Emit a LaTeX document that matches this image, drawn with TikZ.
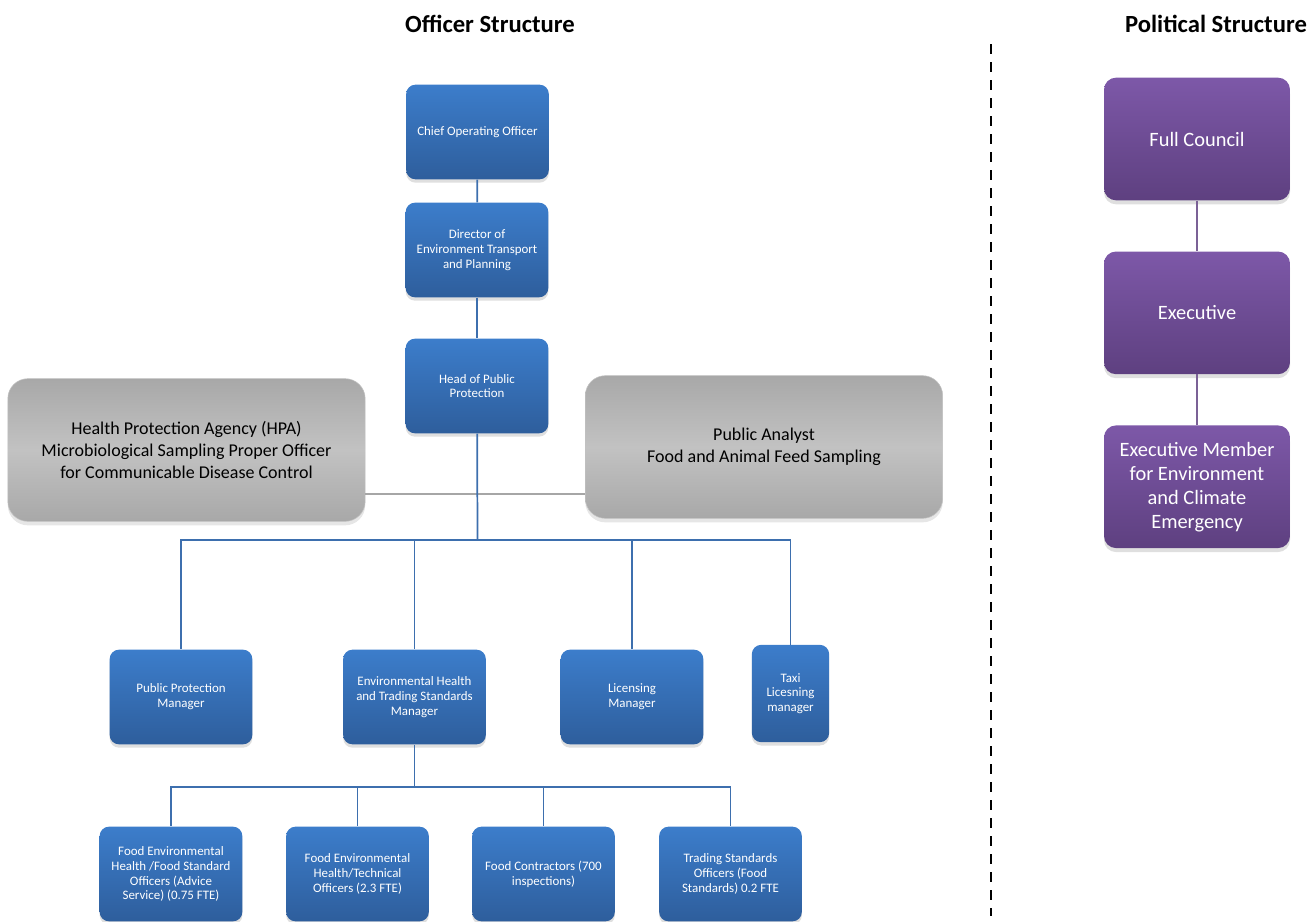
\documentclass[tikz,border=0pt]{standalone}
\usepackage{fontspec}
\setmainfont{Carlito}
\usetikzlibrary{positioning, shadows}
\definecolor{boxblue}{HTML}{3C7DCB}
\definecolor{boxbluedark}{HTML}{2E5E9C}
\definecolor{boxpurple}{HTML}{7D58A8}
\definecolor{boxpurpledark}{HTML}{5E4080}
\definecolor{boxgray}{HTML}{A8A8A8}
\definecolor{boxgraylight}{HTML}{C2C2C2}
\definecolor{linkblue}{HTML}{3D6FAE}
\definecolor{linkpurple}{HTML}{7B6196}
\definecolor{linkgray}{HTML}{A6A6A6}

\begin{document}
\begin{tikzpicture}[
  x=0.75pt, y=-0.75pt,
  node distance=38pt,
  officer/.style={rounded corners=7pt, top color=boxblue, bottom color=boxbluedark,
                  text=white, align=center, inner sep=2pt,
                  font=\fontsize{9.7}{11.1}\selectfont,
                  minimum width=107pt, minimum height=71pt,
                  drop shadow={opacity=0.25, shadow xshift=0pt, shadow yshift=-2.5pt}},
  partner/.style={rounded corners=15pt, top color=boxgray, bottom color=boxgray,
                  middle color=boxgraylight, draw=boxgraylight, align=center,
                  font=\fontsize{13.5}{16.7}\selectfont,
                  minimum width=268pt, minimum height=107pt,
                  drop shadow={opacity=0.2, shadow xshift=0pt, shadow yshift=-3pt}},
  member/.style={rounded corners=9pt, top color=boxpurple, bottom color=boxpurpledark,
                 text=white, align=center, inner sep=2pt,
                 font=\fontsize{15.3}{18}\selectfont,
                 minimum width=139.5pt, minimum height=92pt,
                 drop shadow={opacity=0.25, shadow xshift=0pt, shadow yshift=-3pt}},
  heading/.style={font=\fontsize{18.5}{22}\selectfont\bfseries},
  link/.style={draw=linkblue, line width=1.3pt},
  glink/.style={draw=linkgray, line width=1.3pt},
  plink/.style={draw=linkpurple, line width=1.2pt}
]
\useasboundingbox (0,0) rectangle (1310,921);

% headings and divider
\node[heading] (offtitle) at (490,24) {Officer Structure};
\node[heading] (poltitle) at (1216,24) {Political Structure};
\coordinate (divtop) at (991,44);
\coordinate (divbot) at (991,916);
\draw[line width=1.9pt, dash pattern=on 7.5pt off 6pt] (divtop) -- (divbot);

% officer chain
\node[officer] (coo)      at (477.5,132) {Chief Operating Officer};
\node[officer] (director) at (477,250) {Director of\\Environment Transport\\and Planning};
\node[officer] (head)     at (477,386) {Head of Public\\Protection};

% external partners
\node[partner] (hpa)     at (186.5,450) {Health Protection Agency (HPA)\\Microbiological Sampling Proper Officer\\for Communicable Disease Control};
\node[partner] (analyst) at (764,447) {Public Analyst\\Food and Animal Feed Sampling};

% managers
\node[officer] (ppm)     at (181,697) {Public Protection\\Manager};
\node[officer] (ehts)    at (414.5,697) {Environmental Health\\and Trading Standards\\Manager};
\node[officer] (licence) at (632,697) {Licensing\\Manager};
\node[officer, minimum width=58pt, minimum height=73pt] (taxi) at (790.5,693.5) {Taxi\\Licesning\\manager};

% officers
\node[officer] (feh1)     at (171,874) {Food Environmental\\Health /Food Standard\\Officers (Advice\\Service) (0.75 FTE)};
\node[officer] (feh2)     at (357.5,874) {Food Environmental\\Health/Technical\\Officers (2.3 FTE)};
\node[officer] (contract) at (543.5,874) {Food Contractors (700\\inspections)};
\node[officer] (tso)      at (730.5,874) {Trading Standards\\Officers (Food\\Standards) 0.2 FTE};

% political chain
\node[member] (council) at (1197,139) {Full Council};
\node[member, below=of council] (exec) {Executive};
\node[member, below=of exec] (execmember) {Executive Member\\for Environment\\and Climate\\Emergency};

% connectors
\coordinate (bus) at (477.5,540);
\coordinate (teambus) at (414.5,787);
\draw[glink] ([yshift=-33pt]hpa.east) -- ([yshift=-33pt]hpa.east -| analyst.west);
\draw[link] (coo) -- (director);
\draw[link] (director) -- (head);
\draw[link] (head) -- (bus);
\draw[link] (bus) -| (ppm);
\draw[link] (bus) -| (ehts);
\draw[link] (bus) -| (licence);
\draw[link] (bus) -| (taxi);
\draw[link] (ehts) -- (teambus);
\draw[link] (teambus) -| (feh1);
\draw[link] (teambus) -| (feh2);
\draw[link] (teambus) -| (contract);
\draw[link] (teambus) -| (tso);
\draw[plink] (council) -- (exec);
\draw[plink] (exec) -- (execmember);
\end{tikzpicture}
\end{document}
